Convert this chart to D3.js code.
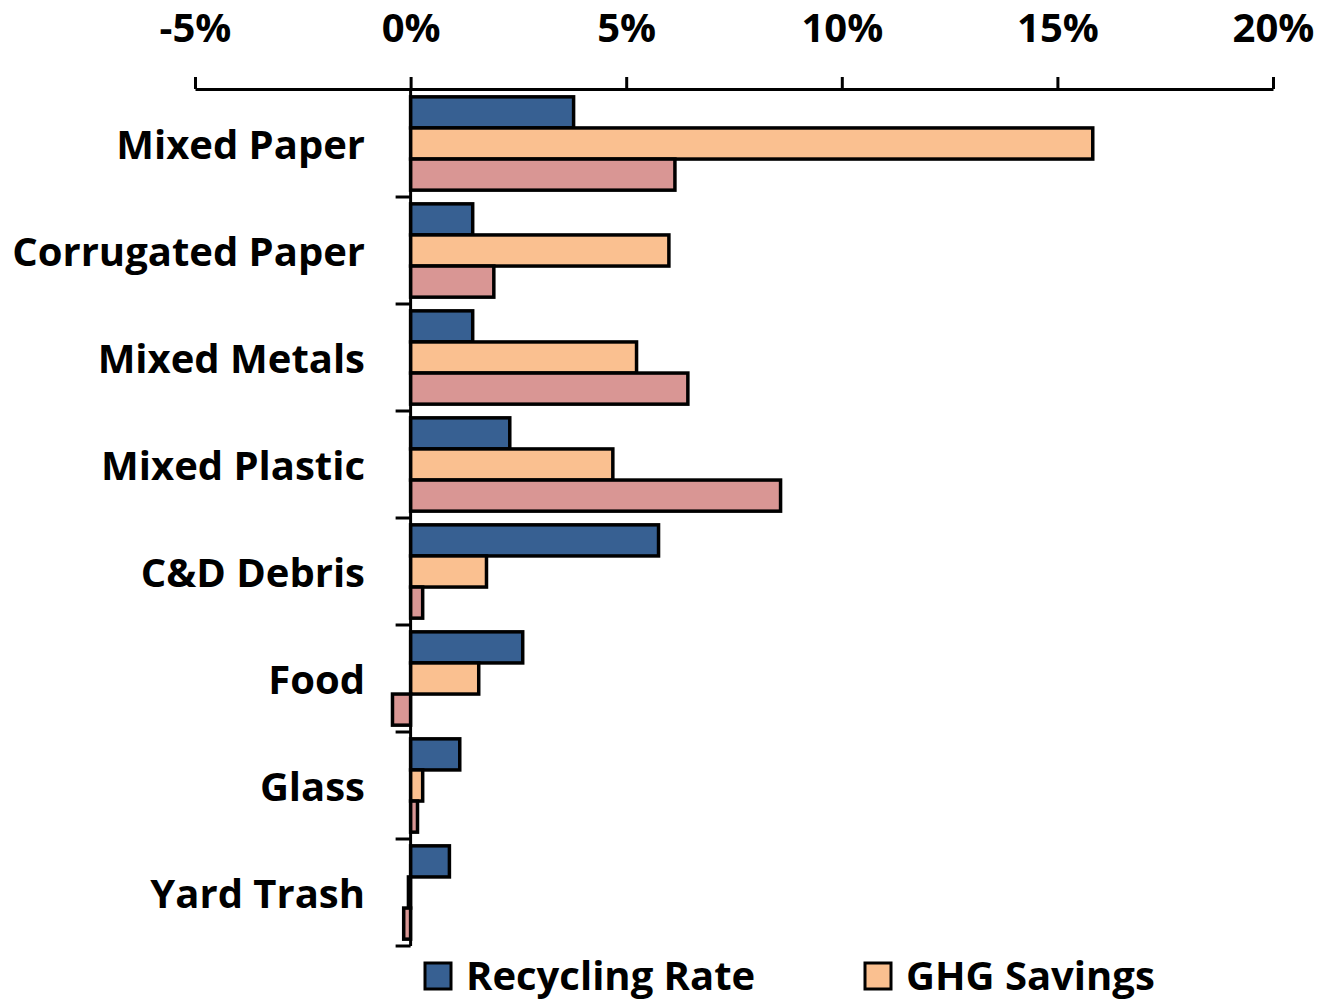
<!DOCTYPE html>
<html>
<head>
<meta charset="utf-8">
<script src="https://cdnjs.cloudflare.com/ajax/libs/d3/7.8.5/d3.min.js"></script>
<style>
  body { margin: 0; background: #fff; }
  text { font-family: "Open Sans", Lato, sans-serif; font-weight: bold; fill: #000; }
</style>
</head>
<body>
<div id="chart"></div>
<script>
var categories = ["Mixed Paper", "Corrugated Paper", "Mixed Metals", "Mixed Plastic", "C&D Debris", "Food", "Glass", "Yard Trash"];
var seriesNames = ["Recycling Rate", "GHG Savings", "Third Series"];
var recyclingRate = [3.78, 1.44, 1.44, 2.30, 5.75, 2.60, 1.14, 0.90];
var ghgSavings = [15.82, 5.99, 5.24, 4.69, 1.76, 1.58, 0.28, -0.05];
var thirdSeries = [6.13, 1.93, 6.43, 8.58, 0.28, -0.42, 0.16, -0.16];
var xTicks = [-5, 0, 5, 10, 15, 20];
var colors = ["#376092", "#FAC090", "#D99694"];
var legendShown = [0, 1];

var width = 1336, height = 1003;
var fontSize = 40;
var svg = d3.select("#chart").append("svg")
    .attr("width", width)
    .attr("height", height);

var x = d3.scaleLinear().domain([-5, 20]).range([195, 1273]);
var y = d3.scaleBand().domain(categories).range([90, 946]).paddingInner(0).paddingOuter(0);
var ySub = d3.scaleBand().domain([0, 1, 2]).range([0, y.bandwidth()]).paddingOuter(0.22);

var seriesData = [recyclingRate, ghgSavings, thirdSeries];

// bars
categories.forEach(function (c, i) {
    var g = svg.append("g").attr("transform", "translate(0," + y(c) + ")");
    g.selectAll("rect")
        .data(seriesData.map(function (s, k) { return { k: k, v: s[i] }; }))
        .enter().append("rect")
        .attr("x", function (d) { return x(Math.min(0, d.v)); })
        .attr("y", function (d) { return ySub(d.k); })
        .attr("width", function (d) { return Math.abs(x(d.v) - x(0)); })
        .attr("height", ySub.bandwidth())
        .attr("fill", function (d) { return colors[d.k]; })
        .attr("stroke", "#000")
        .attr("stroke-width", 3.5);
});

// top axis
var xAxis = svg.append("g")
    .attr("transform", "translate(0,89)")
    .call(d3.axisTop(x).tickValues(xTicks).tickFormat(function (d) { return d + "%"; }).tickSize(12).tickSizeOuter(0));
xAxis.select(".domain").attr("stroke", "#000").attr("stroke-width", 3);
xAxis.selectAll(".tick line").attr("stroke", "#000").attr("stroke-width", 3);
xAxis.selectAll(".tick text").attr("font-size", fontSize).attr("dy", "0").attr("y", -47)
    .style("font-family", "'Open Sans', Lato, sans-serif").style("font-weight", "bold");

// category axis at zero
var yAxis = svg.append("g")
    .attr("transform", "translate(" + x(0) + ",0)");
yAxis.append("line")
    .attr("x1", 0).attr("x2", 0)
    .attr("y1", 89).attr("y2", 946)
    .attr("stroke", "#000").attr("stroke-width", 3);
var catTicks = categories.map(function (c) { return y(c) + y.bandwidth(); });
yAxis.selectAll(".ctick")
    .data(catTicks)
    .enter().append("line")
    .attr("x1", -15).attr("x2", 0)
    .attr("y1", function (d) { return d; })
    .attr("y2", function (d) { return d; })
    .attr("stroke", "#000").attr("stroke-width", 3);

svg.selectAll(".clabel")
    .data(categories)
    .enter().append("text")
    .attr("x", 365)
    .attr("y", function (d) { return y(d) + y.bandwidth() / 2; })
    .attr("dy", "0.38em")
    .attr("text-anchor", "end")
    .attr("font-size", fontSize)
    .text(function (d) { return d; });

// legend
var legendX = [425, 865];
var leg = svg.selectAll(".leg")
    .data(legendShown)
    .enter().append("g")
    .attr("transform", function (d, i) { return "translate(" + legendX[i] + ",963)"; });
leg.append("rect")
    .attr("width", 26).attr("height", 26)
    .attr("fill", function (d) { return colors[d]; })
    .attr("stroke", "#000").attr("stroke-width", 3);
leg.append("text")
    .attr("x", 41).attr("y", 13).attr("dy", "0.34em")
    .attr("font-size", fontSize)
    .text(function (d) { return seriesNames[d]; });
</script>
</body>
</html>
